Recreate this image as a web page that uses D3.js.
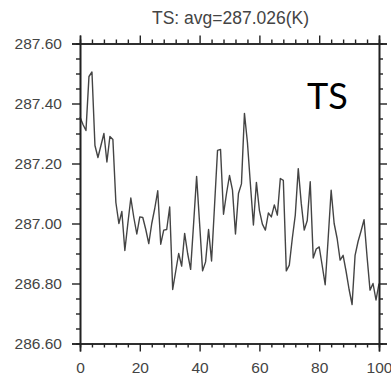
<!DOCTYPE html>
<html>
<head>
<meta charset="utf-8">
<script src="https://cdn.jsdelivr.net/npm/d3@7"></script>
<style>
  html, body { margin: 0; padding: 0; background: #fff; }
  svg { display: block; }
  .tick text { font-family: "Liberation Sans", Arial, sans-serif; font-size: 15.5px; fill: #444; }
</style>
</head>
<body>
<div id="chart"></div>
<script>
// Surface temperature time series (K)
const varName = "TS";
const titleText = "TS: avg=287.026(K)";
const tsValues = [
  287.355, 287.33, 287.31, 287.49, 287.505, 287.26, 287.22, 287.26, 287.30, 287.205,
  287.29, 287.28, 287.07, 287.00, 287.04, 286.91, 287.00, 287.085, 287.02, 286.965,
  287.022, 287.02, 286.98, 286.933, 287.00, 287.05, 287.109, 286.931, 286.978, 286.98,
  287.055, 286.78, 286.84, 286.90, 286.858, 286.967, 286.90, 286.847, 287.00, 287.157,
  287.00, 286.842, 286.872, 286.98, 286.875, 287.06, 287.244, 287.247, 287.031, 287.10,
  287.16, 287.111, 286.965, 287.10, 287.132, 287.367, 287.27, 287.13, 286.995, 287.137,
  287.044, 286.998, 286.978, 287.035, 287.022, 287.062, 287.028, 287.15, 287.144, 286.842,
  286.861, 286.95, 287.028, 287.183, 287.067, 286.978, 287.01, 287.139, 286.885, 286.915,
  286.922, 286.86, 286.796, 286.95, 287.111, 287.0, 286.95, 286.878, 286.894, 286.84,
  286.78, 286.73, 286.894, 286.94, 286.975, 287.013, 286.89, 286.778, 286.80, 286.745,
  286.80
];
const xMajorTicks = [0, 20, 40, 60, 80, 100];
const xMinorTicks = [4, 8, 12, 16, 24, 28, 32, 36, 44, 48, 52, 56, 64, 68, 72, 76, 84, 88, 92, 96];
const yMajorTicks = [286.6, 286.8, 287.0, 287.2, 287.4, 287.6];
const yMinorTicks = [286.65, 286.7, 286.75, 286.85, 286.9, 286.95, 287.05, 287.1, 287.15,
                     287.25, 287.3, 287.35, 287.45, 287.5, 287.55];
const xDomain = [0, 100];
const yDomain = [286.6, 287.6];

const W = 391, H = 375;
const margin = { top: 43.5, right: 12, bottom: 31.5, left: 80 };
const iw = W - margin.left - margin.right;
const ih = H - margin.top - margin.bottom;

const svg = d3.select("#chart").append("svg").attr("width", W).attr("height", H);
const g = svg.append("g").attr("transform", `translate(${margin.left},${margin.top})`);

const x = d3.scaleLinear().domain(xDomain).range([0, iw]);
const y = d3.scaleLinear().domain(yDomain).range([ih, 0]);

// Data line
const line = d3.line().x((d, i) => x(i)).y(d => y(d));
g.append("path")
  .datum(tsValues)
  .attr("fill", "none")
  .attr("stroke", "#444")
  .attr("stroke-width", 1.4)
  .attr("stroke-linejoin", "round")
  .attr("d", line);

// Axes: major and minor ticks pointing outward on all four sides
function styleAxis(sel) {
  sel.select(".domain").attr("stroke", "#222").attr("stroke-width", 1.6);
  sel.selectAll(".tick line").attr("stroke", "#222").attr("stroke-width", 1.4);
}
const fmtY = d3.format(".2f");

g.append("g").call(d3.axisLeft(y).tickValues(yMajorTicks).tickFormat(fmtY).tickSize(8).tickPadding(10)).call(styleAxis);
g.append("g").call(d3.axisLeft(y).tickValues(yMinorTicks).tickFormat("").tickSize(4)).call(styleAxis);

g.append("g").attr("transform", `translate(${iw},0)`)
  .call(d3.axisRight(y).tickValues(yMajorTicks).tickFormat("").tickSize(8)).call(styleAxis);
g.append("g").attr("transform", `translate(${iw},0)`)
  .call(d3.axisRight(y).tickValues(yMinorTicks).tickFormat("").tickSize(4)).call(styleAxis);

g.append("g").attr("transform", `translate(0,${ih})`)
  .call(d3.axisBottom(x).tickValues(xMajorTicks).tickFormat(d3.format("d")).tickSize(8).tickPadding(10)).call(styleAxis);
g.append("g").attr("transform", `translate(0,${ih})`)
  .call(d3.axisBottom(x).tickValues(xMinorTicks).tickFormat("").tickSize(4)).call(styleAxis);

g.append("g").call(d3.axisTop(x).tickValues(xMajorTicks).tickFormat("").tickSize(8)).call(styleAxis);
g.append("g").call(d3.axisTop(x).tickValues(xMinorTicks).tickFormat("").tickSize(4)).call(styleAxis);

// Title
svg.append("text")
  .attr("x", margin.left + iw / 2 + 1)
  .attr("y", 24)
  .attr("text-anchor", "middle")
  .attr("font-family", "Liberation Sans, Arial, sans-serif")
  .attr("font-size", 17.5)
  .attr("fill", "#444")
  .text(titleText);

// Variable label inside the plot
svg.append("text")
  .attr("x", 307)
  .attr("y", 109)
  .attr("font-family", "Lato, 'Open Sans', sans-serif")
  .attr("font-size", 36)
  .attr("fill", "#000")
  .text(varName);
</script>
</body>
</html>
